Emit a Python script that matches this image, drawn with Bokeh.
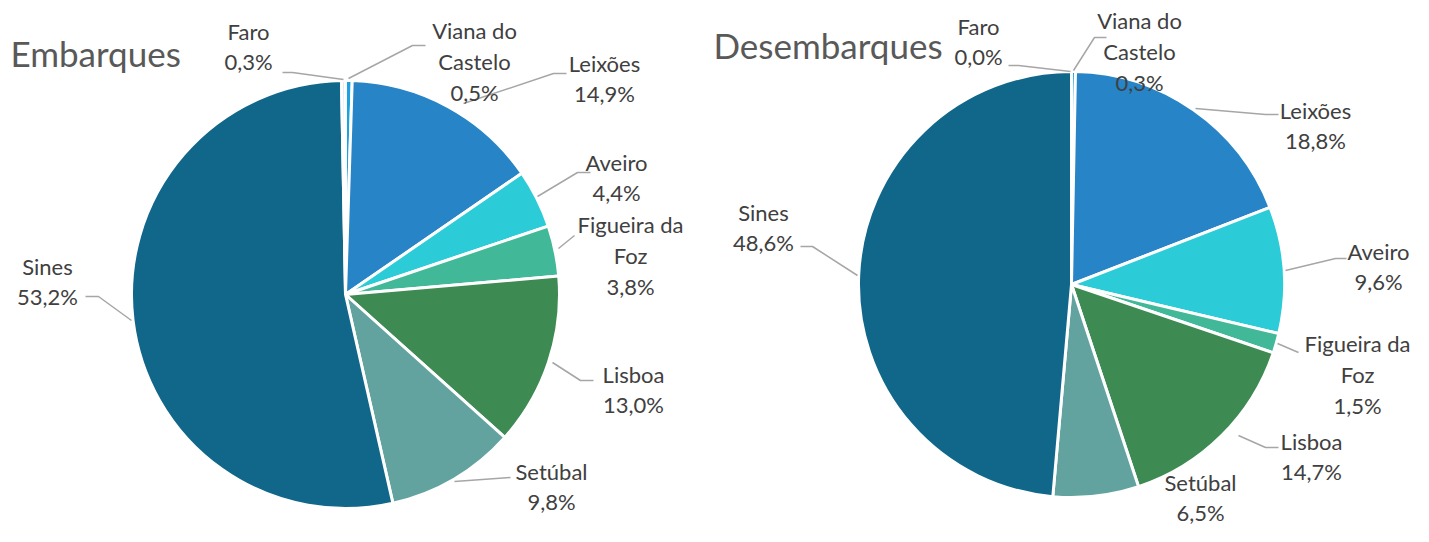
import numpy as np
from bokeh.plotting import figure
from bokeh.models import Range1d, ColumnDataSource
from bokeh.core.properties import value
from bokeh.embed import file_html
from bokeh.resources import INLINE

# ---------------- data ----------------
categories = ["Viana do Castelo", "Leixões", "Aveiro", "Figueira da Foz",
              "Lisboa", "Setúbal", "Sines", "Faro"]
embarques = [0.5, 14.9, 4.4, 3.8, 13.0, 9.8, 53.2, 0.3]
desembarques = [0.3, 18.8, 9.6, 1.5, 14.7, 6.5, 48.6, 0.0]
titles = ["Embarques", "Desembarques"]

# ---------------- styles / layout ----------------
colors = ["#1BA3DF", "#2784C7", "#2BCCD7", "#41B898",
          "#3E8A53", "#63A39F", "#10678A", "#DCEFF5"]
wrap = {"Viana do Castelo": "Viana do\nCastelo", "Figueira da Foz": "Figueira da\nFoz"}
H = 542  # reference pixel height (y flipped)
FONT = "Lato"

pies = [
    dict(cx=345, cy=294, r=214, title_xy=(10, 52),
         label_xy=[(474, 61), (604, 78), (616, 177), (630, 255),
                   (633, 389), (551, 486), (47, 281), (248, 46)],
         leaders=[[(348, 78), (412, 45), (425, 45)],
                  [(463, 103), (553, 73), (566, 73)],
                  [(537, 196), (577, 172), (590, 172)],
                  [(558, 248), (574, 235)],
                  [(552, 362), (580, 380), (593, 380)],
                  [(454, 481), (510, 477)],
                  [(131, 320), (98, 296), (85, 296)],
                  [(343, 79), (292, 72), (282, 72)]]),
    dict(cx=1071, cy=284, r=213, title_xy=(713, 44),
         label_xy=[(1139, 51), (1315, 125), (1378, 266), (1357, 374),
                   (1311, 456), (1200, 497), (763, 227), (978, 41)],
         leaders=[[(1073, 70), (1094, 37), (1106, 37)],
                  [(1195, 108), (1265, 114), (1278, 114)],
                  [(1285, 270), (1335, 258), (1346, 258)],
                  [(1277, 343), (1298, 352)],
                  [(1238, 435), (1265, 447), (1278, 447)],
                  None,
                  [(857, 275), (812, 246), (800, 246)],
                  [(1070, 71), (1018, 65), (1008, 65)]]),
]

p = figure(width=1413, height=526, output_backend="svg", toolbar_location=None,
           x_range=Range1d(0, 1413), y_range=Range1d(H - 526, H), min_border=0)
p.axis.visible = False
p.grid.visible = False
p.outline_line_color = None
p.background_fill_color = "white"

for series, title, lay in zip([embarques, desembarques], titles, pies):
    vals = np.array(series, dtype=float)
    frac = vals / vals.sum()
    cum_after = np.cumsum(frac)
    cum_before = cum_after - frac
    start = np.pi / 2 - cum_after * 2 * np.pi
    end = np.pi / 2 - cum_before * 2 * np.pi
    keep = vals > 0
    src = ColumnDataSource(dict(
        start=start[keep], end=end[keep],
        color=[c for c, k in zip(colors, keep) if k]))
    p.wedge(x=lay["cx"], y=H - lay["cy"], radius=lay["r"], start_angle="start",
            end_angle="end", fill_color="color", line_color="white", line_width=3,
            source=src)

    # leader lines
    for ld in lay["leaders"]:
        if ld is None:
            continue
        p.line([q[0] for q in ld], [H - q[1] for q in ld],
               line_color="#A6A6A6", line_width=1.5)

    # labels
    texts = []
    for cat, v in zip(categories, series):
        name = wrap.get(cat, cat)
        texts.append(f"{name}\n{v:.1f}%".replace(".", ","))
    lsrc = ColumnDataSource(dict(
        x=[q[0] for q in lay["label_xy"]],
        y=[H - q[1] for q in lay["label_xy"]],
        t=texts))
    p.text(x="x", y="y", text="t", source=lsrc, text_align="center",
           text_baseline="middle", text_font=value(FONT), text_font_size="22px",
           text_color="#404040", text_line_height=1.13)

    tx, ty = lay["title_xy"]
    p.text(x=[tx], y=[H - ty], text=[title], text_align="left", text_baseline="middle",
           text_font=value(FONT), text_font_size="35px", text_color="#595959")

open("out.html", "w").write(file_html(p, INLINE))
